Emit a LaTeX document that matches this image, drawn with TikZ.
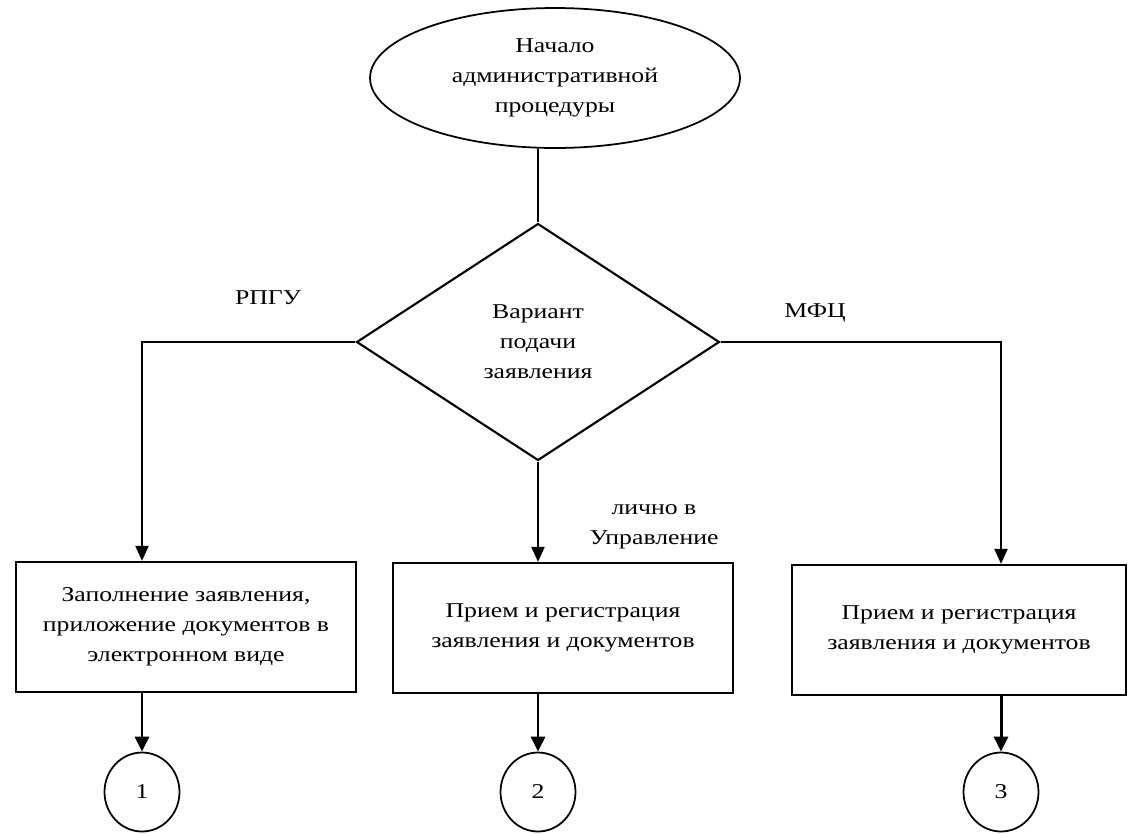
\documentclass[tikz,border=0pt]{standalone}
\usepackage{fontspec}
\setmainfont{Liberation Serif}[FakeStretch=1.22]
\usetikzlibrary{arrows.meta,shapes.geometric}
\begin{document}
\begin{tikzpicture}[x=0.02cm,y=-0.02cm,
  every node/.style={font=\fontsize{12pt}{17pt}\selectfont},
  ln/.style={line width=1.2pt},
  arr/.style={ln,-{Triangle[length=0.3cm,width=0.26cm]}},
  barr/.style={line width=1.7pt,-{Triangle[length=0.3cm,width=0.28cm]}},
  startnode/.style={ellipse,draw,line width=1pt,minimum width=7.4cm,minimum height=2.8cm,align=center,inner sep=0pt},
  decnode/.style={diamond,draw,line width=1.2pt,minimum width=7.26cm,minimum height=4.74cm,align=center,inner sep=0pt},
  procbox/.style={rectangle,draw,line width=1.3pt,minimum height=2.6cm,align=center},
  conn/.style={ellipse,draw,line width=1pt,minimum width=1.5cm,minimum height=1.58cm,inner sep=0pt},
  lbl/.style={align=center,inner sep=0pt}]
\fill[white] (0,0) rectangle (1140,833);
\useasboundingbox (0,0) rectangle (1140,833);
\node[startnode] (start) at (555,78) {Начало\\административной\\процедуры};
\node[decnode] (dec) at (538,342) {Вариант\\подачи\\заявления};
\draw[ln] (dec.north |- start.south) -- (dec.north);
\node[procbox,minimum width=6.8cm] (b1) at (186,627) {Заполнение заявления,\\приложение документов в\\электронном виде};
\node[procbox,minimum width=6.8cm] (b2) at (563,628) {Прием и регистрация\\заявления и документов};
\node[procbox,minimum width=6.68cm] (b3) at (959,630) {Прием и регистрация\\заявления и документов};
\coordinate (lc) at (142,342);
\coordinate (rc) at (1001,342);
\draw[arr] (dec.west) -- (lc) -- (lc |- b1.north);
\draw[arr] (dec.east) -- (rc) -- (rc |- b3.north);
\draw[arr] (dec.south) -- (dec.south |- b2.north);
\node[conn] (c1) at (142,792) {1};
\node[conn] (c2) at (538,792) {2};
\node[conn] (c3) at (1001,792) {3};
\draw[barr] (c1.north |- b1.south) -- (c1.north);
\draw[barr] (c2.north |- b2.south) -- (c2.north);
\draw[barr] (c3.north |- b3.south) -- (c3.north);
\node[lbl] (lr) at (268,298) {РПГУ};
\node[lbl] (lm) at (815,313) {МФЦ};
\node[lbl] (lp) at (654,527) {лично в\\Управление};
\end{tikzpicture}
\end{document}
